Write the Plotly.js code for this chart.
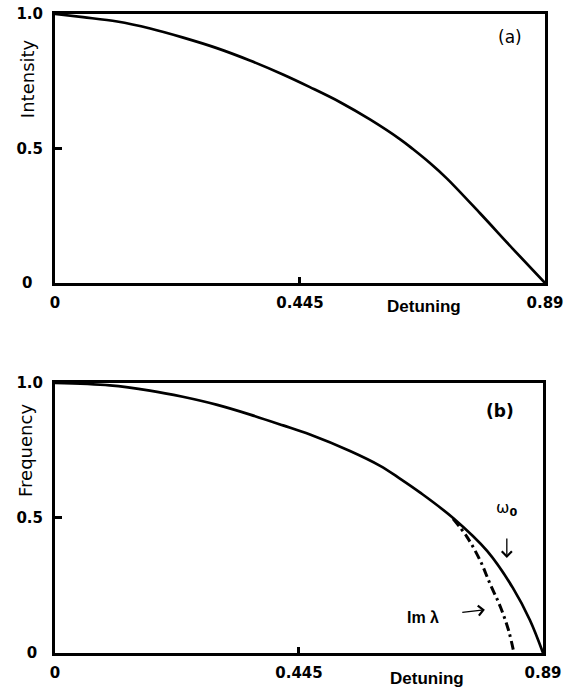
<!DOCTYPE html>
<html>
<head>
<meta charset="utf-8">
<script src="https://cdn.plot.ly/plotly-3.0.1.min.js"></script>
<style>html,body{margin:0;padding:0;background:#fff;}#chart{width:565px;height:688px;}</style>
</head>
<body>
<div id="chart"></div>
<script>
// Panel (a): intensity vs detuning
const intensityX = [0, 0.051, 0.113, 0.173, 0.233, 0.294, 0.354, 0.414, 0.463, 0.518, 0.572, 0.627, 0.650, 0.681, 0.712, 0.772, 0.832, 0.89];
const intensityY = [1.0, 0.988, 0.972, 0.946, 0.912, 0.873, 0.827, 0.775, 0.728, 0.672, 0.608, 0.534, 0.498, 0.446, 0.388, 0.259, 0.126, 0];

// Panel (b): frequency omega_0 vs detuning
const omegaX = [0, 0.100, 0.173, 0.233, 0.296, 0.356, 0.416, 0.465, 0.538, 0.593, 0.629, 0.666, 0.726, 0.788, 0.835, 0.866, 0.89];
const omegaY = [1.0, 0.991, 0.972, 0.949, 0.919, 0.883, 0.843, 0.809, 0.748, 0.693, 0.646, 0.594, 0.500, 0.378, 0.241, 0.122, 0];

// Panel (b): Im lambda (dash-dot)
const imLambdaX = [0.726, 0.751, 0.775, 0.793, 0.812, 0.827, 0.837];
const imLambdaY = [0.497, 0.431, 0.344, 0.258, 0.172, 0.085, 0];

// Tick labels
const xTickVals = [0, 0.445, 0.89];
const xTickText = ['0', '0.445', '0.89'];
const yTickVals = [0, 0.5, 1.0];
const yTickTextA = ['0\u2007', '0.5', '1.0'];
const yTickTextB = ['0\u2008', '0.5', '1.0'];

const tickFont = {family: 'DejaVu Sans', size: 15, color: '#000', weight: 'bold'};

function xAxis(domain, anchor) {
  return {
    domain: domain, anchor: anchor, range: [0, 0.89],
    showline: true, linewidth: 3, linecolor: '#000', mirror: true,
    showgrid: false, zeroline: false,
    tickmode: 'array', tickvals: xTickVals, ticktext: xTickText,
    ticks: 'inside', ticklen: 6, tickwidth: 3, tickcolor: '#000',
    tickfont: tickFont, ticklabelstandoff: 4
  };
}
function yAxis(domain, anchor, text) {
  return {
    domain: domain, anchor: anchor, range: [0, 1.0],
    showline: true, linewidth: 3, linecolor: '#000', mirror: true,
    showgrid: false, zeroline: false,
    tickmode: 'array', tickvals: yTickVals, ticktext: text,
    ticks: 'inside', ticklen: 7, tickwidth: 3, tickcolor: '#000',
    tickfont: tickFont, ticklabelstandoff: 6
  };
}

const data = [
  {x: intensityX, y: intensityY, xaxis: 'x', yaxis: 'y', mode: 'lines',
   line: {color: '#000', width: 2.7, shape: 'spline', smoothing: 1}, hoverinfo: 'skip'},
  {x: omegaX, y: omegaY, xaxis: 'x2', yaxis: 'y2', mode: 'lines',
   line: {color: '#000', width: 2.7, shape: 'spline', smoothing: 1}, hoverinfo: 'skip'},
  {x: imLambdaX, y: imLambdaY, xaxis: 'x2', yaxis: 'y2', mode: 'lines',
   line: {color: '#000', width: 3, dash: '9px,4px,2.5px,4px', shape: 'spline', smoothing: 1}, hoverinfo: 'skip'}
];

const ctr = {xanchor: 'center', yanchor: 'middle', showarrow: false};

const layout = {
  width: 565, height: 688,
  margin: {l: 0, r: 0, t: 0, b: 0},
  paper_bgcolor: '#fff', plot_bgcolor: '#fff',
  showlegend: false,
  xaxis: xAxis([0.0973, 0.9646], 'y'),
  yaxis: yAxis([0.5887, 0.9797], 'x', yTickTextA),
  xaxis2: xAxis([0.0973, 0.9611], 'y2'),
  yaxis2: yAxis([0.0509, 0.4433], 'x2', yTickTextB),
  annotations: [
    Object.assign({text: 'Intensity', xref: 'paper', yref: 'paper', x: 0.0478, y: 0.885, textangle: -90,
     font: {family: 'DejaVu Sans', size: 18, color: '#000'}}, ctr),
    Object.assign({text: 'Frequency', xref: 'paper', yref: 'paper', x: 0.046, y: 0.346, textangle: -90,
     font: {family: 'DejaVu Sans', size: 18, color: '#000'}}, ctr),
    Object.assign({text: 'Detuning', xref: 'paper', yref: 'paper', x: 0.750, y: 0.555,
     font: {family: 'Liberation Sans', size: 17, color: '#000', weight: 'bold'}}, ctr),
    Object.assign({text: 'Detuning', xref: 'paper', yref: 'paper', x: 0.756, y: 0.0145,
     font: {family: 'Liberation Sans', size: 17, color: '#000', weight: 'bold'}}, ctr),
    Object.assign({text: '(a)', xref: 'x', yref: 'y', x: 0.826, y: 0.914,
     font: {family: 'DejaVu Sans', size: 17, color: '#000'}}, ctr),
    Object.assign({text: '(b)', xref: 'x2', yref: 'y2', x: 0.8116, y: 0.896,
     font: {family: 'DejaVu Sans', size: 17, color: '#000', weight: 'bold'}}, ctr),
    {text: 'ω<sub><b>0</b></sub>', xref: 'x2', yref: 'y2', x: 0.824, y: 0.352,
     axref: 'x2', ayref: 'y2', ax: 0.824, ay: 0.535, xanchor: 'center', yanchor: 'middle',
     showarrow: true, arrowhead: 4, arrowsize: 1.5, arrowwidth: 1.3, arrowcolor: '#000', startstandoff: 18,
     font: {family: 'DejaVu Sans', size: 16, color: '#000'}},
    {text: 'Im λ', xref: 'x2', yref: 'y2', x: 0.784, y: 0.160,
     axref: 'x2', ayref: 'y2', ax: 0.671, ay: 0.133, xanchor: 'center', yanchor: 'middle',
     showarrow: true, arrowhead: 4, arrowsize: 1.5, arrowwidth: 1.3, arrowcolor: '#000', startstandoff: 22,
     font: {family: 'Liberation Sans', size: 16, color: '#000', weight: 'bold'}}
  ]
};

Plotly.newPlot('chart', data, layout, {staticPlot: true, displayModeBar: false});
</script>
</body>
</html>
